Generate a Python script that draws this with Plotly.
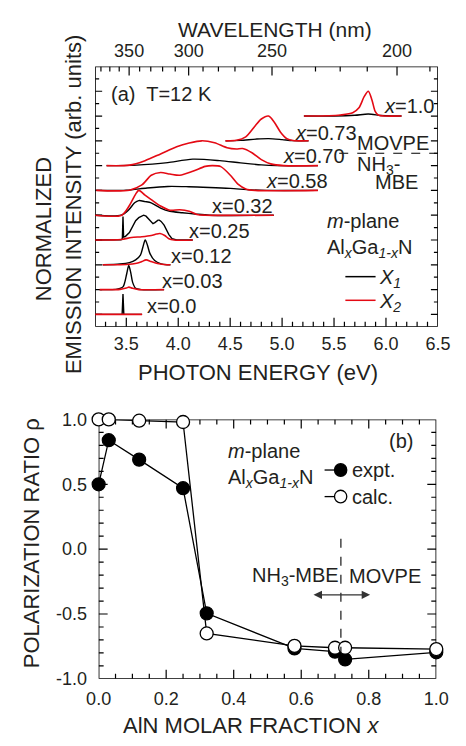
import plotly.graph_objects as go

W, H = 466, 746
INK = "#231f20"
RED = "rgb(228,10,20)"
FONT = "Liberation Sans, Arial, sans-serif"

# ---------------- panel (a) data: emission spectra (energy eV, normalized intensity) ----------------
compositions = ["0.0", "0.03", "0.12", "0.25", "0.32", "0.58", "0.70", "0.73", "1.0"]
offsets = [0.5, 1.5, 2.5, 3.5, 4.5, 5.5, 6.5, 7.5, 8.5]

e_000_x1 = [3.20, 3.460, 3.468, 3.476, 3.652]
i_000_x1 = [0, 0, 0.82, 0, 0]
e_000_x2 = [3.20, 3.652]
i_000_x2 = [0, 0]

e_003_x1 = [3.243, 3.40, 3.44, 3.47, 3.485, 3.506, 3.524, 3.543, 3.561, 3.59, 3.64, 3.864]
i_003_x1 = [0, 0.01, 0.05, 0.12, 0.29, 0.68, 0.97, 0.68, 0.29, 0.05, 0, 0]
e_003_x2 = [3.243, 3.44, 3.50, 3.525, 3.56, 3.62, 3.864]
i_003_x2 = [0, 0.01, 0.06, 0.10, 0.05, 0, 0]

e_012_x1 = [3.273, 3.44, 3.53, 3.59, 3.636, 3.66, 3.682, 3.703, 3.727, 3.773, 3.834, 3.894, 3.925]
i_012_x1 = [0, 0.03, 0.09, 0.20, 0.39, 0.72, 1.0, 0.80, 0.46, 0.17, 0.04, 0, 0]
e_012_x2 = [3.273, 3.50, 3.60, 3.65, 3.69, 3.74, 3.80, 3.86, 3.925]
i_012_x2 = [0, 0.01, 0.06, 0.13, 0.20, 0.13, 0.05, 0.01, 0]

e_025_x1 = [3.20, 3.45, 3.462, 3.468, 3.474, 3.49, 3.53, 3.56, 3.59, 3.62, 3.645, 3.667, 3.69,
            3.71, 3.735, 3.757, 3.775, 3.79, 3.805, 3.818, 3.835, 3.864, 3.89, 3.91, 3.94, 3.985, 4.14]
i_025_x1 = [0, 0.01, 0.05, 0.95, 0.12, 0.14, 0.30, 0.56, 0.78, 0.90, 0.97, 1.0, 0.96,
            0.88, 0.74, 0.66, 0.70, 0.76, 0.80, 0.80, 0.75, 0.60, 0.38, 0.22, 0.05, 0, 0]
e_025_x2 = [3.20, 3.45, 3.55, 3.65, 3.74, 3.79, 3.825, 3.87, 3.91, 3.96, 4.14]
i_025_x2 = [0, 0.02, 0.10, 0.13, 0.18, 0.24, 0.26, 0.18, 0.05, 0, 0]

e_032_x1 = [3.20, 3.45, 3.52, 3.58, 3.62, 3.68, 3.74, 3.83, 3.92, 4.04, 4.16, 4.30, 4.92]
i_032_x1 = [0, 0, 0.20, 0.50, 0.59, 0.55, 0.50, 0.29, 0.16, 0.10, 0.05, 0, 0]
e_032_x2 = [3.20, 3.455, 3.53, 3.59, 3.62, 3.68, 3.74, 3.83, 3.92, 4.015, 4.105, 4.18, 4.26, 4.92]
i_032_x2 = [0, 0, 0.39, 0.85, 1.0, 0.81, 0.63, 0.37, 0.20, 0.22, 0.16, 0.03, 0, 0]

e_058_x1 = [3.21, 3.50, 3.70, 3.90, 4.10, 4.30, 4.50, 4.70, 4.85, 5.345]
i_058_x1 = [0, 0.01, 0.10, 0.16, 0.15, 0.12, 0.08, 0.02, 0, 0]
e_058_x2 = [3.21, 3.53, 3.65, 3.74, 3.83, 3.92, 4.015, 4.14, 4.26, 4.33, 4.41, 4.50, 4.575, 4.65, 4.74, 5.345]
i_058_x2 = [0, 0.01, 0.22, 0.61, 0.72, 0.66, 0.61, 0.77, 0.97, 1.0, 0.96, 0.62, 0.25, 0.06, 0, 0]

e_070_x1 = [3.31, 3.60, 3.75, 3.90, 4.14, 4.40, 4.60, 4.80, 4.95, 5.345]
i_070_x1 = [0, 0.02, 0.06, 0.12, 0.26, 0.20, 0.11, 0.03, 0, 0]
e_070_x2 = [3.31, 3.53, 3.68, 3.83, 3.985, 4.105, 4.227, 4.35, 4.47, 4.56, 4.62, 4.71, 4.80, 4.89, 5.015, 5.345]
i_070_x2 = [0, 0.02, 0.20, 0.47, 0.76, 0.91, 1.0, 0.92, 0.72, 0.67, 0.69, 0.52, 0.24, 0.07, 0, 0]

e_073_x1 = [4.455, 4.60, 4.75, 4.87, 5.00, 5.10, 5.255]
i_073_x1 = [0, 0.02, 0.07, 0.09, 0.05, 0.01, 0]
e_073_x2 = [4.455, 4.56, 4.65, 4.74, 4.80, 4.87, 4.925, 4.985, 5.045, 5.105, 5.255]
i_073_x2 = [0, 0.02, 0.16, 0.60, 0.88, 1.0, 0.75, 0.35, 0.09, 0.01, 0]

e_100_x1 = [5.21, 5.50, 5.70, 5.83, 5.95, 6.05, 6.15]
i_100_x1 = [0, 0, 0.03, 0.08, 0.02, 0, 0]
e_100_x2 = [5.21, 5.45, 5.56, 5.68, 5.74, 5.79, 5.83, 5.865, 5.895, 5.925, 6.00, 6.15]
i_100_x2 = [0, 0.01, 0.04, 0.13, 0.33, 0.78, 1.0, 0.65, 0.20, 0.04, 0, 0]

spectra_x1 = [(e_000_x1, i_000_x1), (e_003_x1, i_003_x1), (e_012_x1, i_012_x1), (e_025_x1, i_025_x1),
              (e_032_x1, i_032_x1), (e_058_x1, i_058_x1), (e_070_x1, i_070_x1), (e_073_x1, i_073_x1),
              (e_100_x1, i_100_x1)]
spectra_x2 = [(e_000_x2, i_000_x2), (e_003_x2, i_003_x2), (e_012_x2, i_012_x2), (e_025_x2, i_025_x2),
              (e_032_x2, i_032_x2), (e_058_x2, i_058_x2), (e_070_x2, i_070_x2), (e_073_x2, i_073_x2),
              (e_100_x2, i_100_x2)]
linear_shape = {"0.0", "0.25"}

energy_ticks = [3.5, 4.0, 4.5, 5.0, 5.5, 6.0, 6.5]
energy_minor = [3.3, 3.4, 3.6, 3.7, 3.8, 3.9, 4.1, 4.2, 4.3, 4.4, 4.6, 4.7, 4.8, 4.9,
                5.1, 5.2, 5.3, 5.4, 5.6, 5.7, 5.8, 5.9, 6.1, 6.2, 6.3, 6.4]
wavelength_ticks = [350, 300, 250, 200]
wavelength_minor = [380, 370, 360, 340, 330, 320, 310, 290, 280, 270, 260, 240, 230, 220, 210, 190]
intensity_major = [0.5, 1.5, 2.5, 3.5, 4.5, 5.5, 6.5, 7.5, 8.5, 9.5]
intensity_minor = [1, 2, 3, 4, 5, 6, 7, 8, 9, 10]

# ---------------- panel (b) data: polarization ratio ----------------
x_frac = [0.0, 0.03, 0.12, 0.25, 0.32, 0.58, 0.70, 0.73, 1.0]
rho_expt = [0.5, 0.84, 0.69, 0.47, -0.495, -0.765, -0.79, -0.85, -0.795]
rho_calc = [1.0, 1.0, 0.99, 0.98, -0.65, -0.745, -0.76, -0.76, -0.77]
rho_ticks = [-1.0, -0.5, 0.0, 0.5, 1.0]
rho_minor = [-0.9, -0.8, -0.7, -0.6, -0.4, -0.3, -0.2, -0.1, 0.1, 0.2, 0.3, 0.4, 0.6, 0.7, 0.8, 0.9]
frac_ticks = [0.0, 0.2, 0.4, 0.6, 0.8, 1.0]
frac_minor = [0.05, 0.1, 0.15, 0.25, 0.3, 0.35, 0.45, 0.5, 0.55, 0.65, 0.7, 0.75, 0.85, 0.9, 0.95]

fig = go.Figure()

for comp, off, (e, i) in zip(compositions, offsets, spectra_x1):
    fig.add_trace(go.Scatter(
        x=e, y=[off + v for v in i], mode="lines", xaxis="x", yaxis="y", showlegend=False,
        line=dict(color="black", width=1.4, shape="linear" if comp in linear_shape else "spline", smoothing=0.8),
        name="X1 x=" + comp, hoverinfo="skip"))
for comp, off, (e, i) in zip(compositions, offsets, spectra_x2):
    fig.add_trace(go.Scatter(
        x=e, y=[off + v for v in i], mode="lines", xaxis="x", yaxis="y", showlegend=False,
        line=dict(color=RED, width=1.6, shape="spline", smoothing=0.8),
        name="X2 x=" + comp, hoverinfo="skip"))

# empty trace that registers the wavelength (top) label axis
fig.add_trace(go.Scatter(x=[], y=[], xaxis="x3", yaxis="y", showlegend=False, hoverinfo="skip"))

fig.add_trace(go.Scatter(
    x=x_frac, y=rho_expt, mode="lines+markers", xaxis="x2", yaxis="y2", name="expt.",
    showlegend=False, cliponaxis=False,
    line=dict(color="black", width=1.3),
    marker=dict(symbol="circle", size=13, color="black", line=dict(color="black", width=1.2))))
fig.add_trace(go.Scatter(
    x=x_frac, y=rho_calc, mode="lines+markers", xaxis="x2", yaxis="y2", name="calc.",
    showlegend=False, cliponaxis=False,
    line=dict(color="black", width=1.3),
    marker=dict(symbol="circle", size=13, color="white", line=dict(color="black", width=1.3))))

tickfont = dict(family=FONT, size=18, color=INK)


def axis(**kw):
    # axis supplies tick labels only; invisible outside ticks set the label gap
    d = dict(showgrid=False, zeroline=False, showline=False, ticks="outside", ticklen=2,
             tickcolor="rgba(0,0,0,0)", tickfont=tickfont)
    d.update(kw)
    return d


top_dom_x = [87 / W, 450 / W]
bot_dom_x = [90.7 / W, 448.3 / W]
top_dom_y = [1 - 325.5 / H, 1 - 58 / H]
bot_dom_y = [1 - 687.3 / H, 1 - 420.7 / H]

# wavelength axis calibration (1000/lambda, in um^-1) matched to the energy axis on display
wl_range = [2.5853, 5.327]
e_range = [3.2, 6.5]
i_range = [0, 10.5]
f_range = [0, 1]
r_range = [-1, 1]

fig.update_layout(
    width=W, height=H, margin=dict(l=0, r=0, t=0, b=0), showlegend=False,
    paper_bgcolor="white", plot_bgcolor="rgba(0,0,0,0)",
    font=dict(family=FONT, color=INK),
    xaxis=axis(domain=top_dom_x, anchor="y", range=e_range, ticklen=1,
               tickmode="array", tickvals=energy_ticks, ticktext=[f"{v:.1f}" for v in energy_ticks]),
    xaxis3=axis(overlaying="x", side="top", anchor="y", range=wl_range, ticklen=1,
                tickmode="array", tickvals=[1000 / v for v in wavelength_ticks],
                ticktext=[str(v) for v in wavelength_ticks]),
    yaxis=axis(domain=top_dom_y, anchor="x", range=i_range, showticklabels=False, ticks=""),
    xaxis2=axis(domain=bot_dom_x, anchor="y2", range=f_range, ticklen=4,
                tickmode="array", tickvals=frac_ticks, ticktext=[f"{v:.1f}" for v in frac_ticks]),
    yaxis2=axis(domain=bot_dom_y, anchor="x2", range=r_range, ticklen=7,
                tickmode="array", tickvals=rho_ticks, ticktext=[f"{v:.1f}" for v in rho_ticks]),
)


# ---------- frames and inward ticks, built from the tick lists ----------
def frame(xref, yref, xr, yr):
    fig.add_shape(type="rect", xref=xref, yref=yref, x0=xr[0], x1=xr[1], y0=yr[0], y1=yr[1],
                  layer="below", line=dict(color="black", width=1.6), fillcolor="rgba(0,0,0,0)")


def xticks(xref, yref, vals, anchor, length):
    for v in vals:
        fig.add_shape(type="line", xref=xref, yref=yref, x0=v, x1=v, ysizemode="pixel", yanchor=anchor,
                      y0=0, y1=length, layer="below", line=dict(color="black", width=1.2))


def yticks(xref, yref, vals, anchor, length):
    for v in vals:
        fig.add_shape(type="line", xref=xref, yref=yref, y0=v, y1=v, xsizemode="pixel", xanchor=anchor,
                      x0=0, x1=length, layer="below", line=dict(color="black", width=1.2))


def wl_to_e(lam):
    return e_range[0] + (1000 / lam - wl_range[0]) / (wl_range[1] - wl_range[0]) * (e_range[1] - e_range[0])


frame("x", "y", e_range, i_range)
xticks("x", "y", energy_ticks[:-1], i_range[0], 9)
xticks("x", "y", energy_minor, i_range[0], 5)
xticks("x", "y", [wl_to_e(v) for v in wavelength_ticks], i_range[1], -9)
xticks("x", "y", [wl_to_e(v) for v in wavelength_minor], i_range[1], -5)
for anc, sgn in [(e_range[0], 1), (e_range[1], -1)]:
    yticks("x", "y", intensity_major, anc, 7 * sgn)
    yticks("x", "y", intensity_minor, anc, 4 * sgn)

frame("x2", "y2", f_range, r_range)
for anc, sgn in [(r_range[0], 1), (r_range[1], -1)]:
    xticks("x2", "y2", frac_ticks[1:-1], anc, 9 * sgn)
    xticks("x2", "y2", frac_minor, anc, 5 * sgn)
for anc, sgn in [(f_range[0], 1), (f_range[1], -1)]:
    yticks("x2", "y2", rho_ticks[1:-1], anc, 9 * sgn)
    yticks("x2", "y2", rho_minor, anc, 5 * sgn)


def ann(text, x, y, xref="x", yref="y", size=20, xanchor="left", angle=0):
    fig.add_annotation(text=text, x=x, y=y, xref=xref, yref=yref, showarrow=False,
                       xanchor=xanchor, yanchor="middle", textangle=angle, borderpad=0,
                       font=dict(family=FONT, size=size, color=INK))


def px(v):
    return v / W


def py(v):
    return 1 - v / H


# legend keys (drawn as layout decorations)
for color, ky, label in [("black", 274, "<i>X</i><sub><i>1</i></sub>"), (RED, 298.3, "<i>X</i><sub><i>2</i></sub>")]:
    fig.add_shape(type="line", xref="paper", yref="paper", x0=px(352), x1=px(384), y0=py(ky), y1=py(ky),
                  line=dict(color=color, width=1.5))
    ann(label, px(387), py(ky + 2), "paper", "paper")
for fill, ky, label in [("black", 472.7, "expt."), ("white", 500, "calc.")]:
    fig.add_shape(type="line", xref="paper", yref="paper", x0=px(330), x1=px(353), y0=py(ky), y1=py(ky),
                  line=dict(color="black", width=1.3))
    fig.add_shape(type="circle", xref="paper", yref="paper", x0=px(347 - 6.5), x1=px(347 + 6.5),
                  y0=py(ky + 6.5), y1=py(ky - 6.5), fillcolor=fill, line=dict(color="black", width=1.3))
    ann(label, px(358), py(ky), "paper", "paper")

# panel (a) labels
ann("(a)  T=12 K", 3.345, 9.37)
ann("<i>x</i>=1.0", 5.973, 8.92)
ann("<i>x</i>=0.73", 5.118, 7.80)
ann("<i>x</i>=0.70", 5.0, 6.89)
ann("<i>x</i>=0.58", 4.836, 5.87)
ann("x=0.32", 4.318, 4.86)
ann("x=0.25", 4.091, 3.85)
ann("x=0.12", 3.918, 2.86)
ann("x=0.03", 3.836, 1.85)
ann("x=0.0", 3.691, 0.84)
ann("MOVPE", 5.709, 7.40)
ann("NH<sub>3</sub>-", 5.709, 6.50)
ann("MBE", 5.882, 5.83)
ann("<i>m</i>-plane", 5.427, 4.25)
ann("Al<sub><i>x</i></sub>Ga<sub><i>1-x</i></sub>N", 5.427, 3.16)
fig.add_shape(type="line", xref="x", yref="y", x0=5.55, x1=6.5, y0=7.0, y1=7.0,
              line=dict(color="black", width=1.1, dash="dash"))

# panel (b) labels
ann("(b)", 0.935, 0.833, "x2", "y2", xanchor="right")
ann("<i>m</i>-plane", 0.381, 0.758, "x2", "y2")
ann("Al<sub><i>x</i></sub>Ga<sub><i>1-x</i></sub>N", 0.381, 0.542, "x2", "y2")
ann("NH<sub>3</sub>-MBE", 0.450, -0.208, "x2", "y2")
ann("MOVPE", 0.739, -0.208, "x2", "y2")
fig.add_shape(type="line", xref="x2", yref="y2", x0=0.7175, x1=0.7175, y0=0.08, y1=-0.80,
              line=dict(color="black", width=1.1, dash="dash"))
fig.add_annotation(x=0.804, y=-0.3525, ax=0.632, ay=-0.3525, xref="x2", yref="y2",
                   axref="x2", ayref="y2", text="", showarrow=True, arrowside="end+start",
                   arrowhead=2, arrowsize=1.3, arrowwidth=1.3, arrowcolor="#333")

# axis titles
ann("WAVELENGTH (nm)", px(277.5), py(20), "paper", "paper", size=21, xanchor="center")
ann("PHOTON ENERGY (eV)", px(260), py(372), "paper", "paper", size=22, xanchor="center")
ann("NORMALIZED", px(33), py(225), "paper", "paper", size=22, xanchor="center", angle=-90)
ann("EMISSION INTENSITY (arb. units)", px(64), py(200), "paper", "paper", size=22, xanchor="center", angle=-90)
ann("POLARIZATION RATIO ρ", px(19), py(548), "paper", "paper", size=22, xanchor="center", angle=-90)
ann("AlN MOLAR FRACTION <i>x</i>", px(252), py(735), "paper", "paper", size=22, xanchor="center")

fig.write_html("out.html")
